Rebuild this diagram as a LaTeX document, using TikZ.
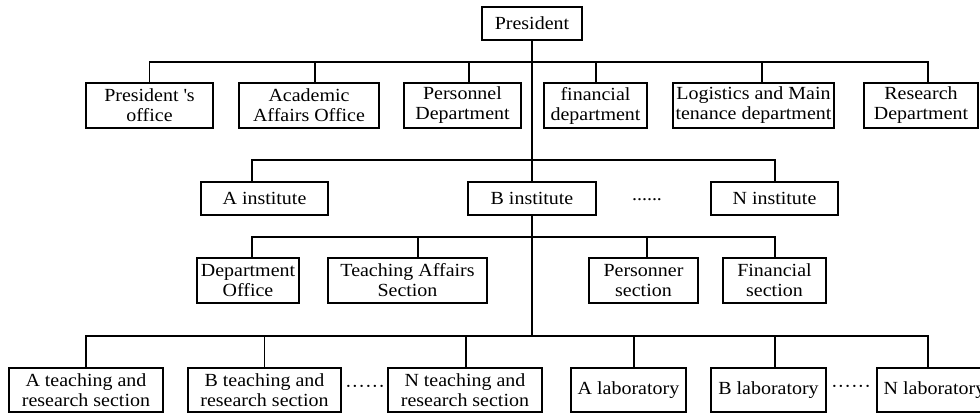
\documentclass[tikz,border=0pt]{standalone}
\usepackage{fontspec}
\setmainfont{Liberation Serif}[FakeStretch=1.08]

\tikzset{
  orgbox/.style={draw, align=center, inner sep=1pt, font=\fontsize{18.5}{20}\selectfont},
  onerow/.style={orgbox, minimum height=33pt},
  tworow/.style={orgbox, minimum height=45pt},
  gapdots/.style={font=\fontsize{18.5}{20}\selectfont}
}

\begin{document}
\begin{tikzpicture}[x=1pt, y=-1pt, line width=1.1pt]
\useasboundingbox (0,0) rectangle (980,413);

\node [onerow, minimum width=100pt] (pres) at (532,23.5) {President};

% offices under the president
\node [tworow, minimum width=127pt] (office) at (149.5,105.5) {President \textquotesingle s\\office};
\node [tworow, minimum width=140pt] (academic) at (309,105.5) {Academic\\Affairs Office};
\node [tworow, minimum width=117pt] (personnel) at (462.5,105.5) {Personnel\\Department};
\node [tworow, minimum width=103pt] (financial) at (595.5,105.5) {financial\\department};
\node [tworow, minimum width=161pt] (logistics) at (753.5,105.5) {Logistics and Main\\tenance department};
\node [tworow, minimum width=114pt] (research) at (921,105.5) {Research\\Department};

% institutes
\node [onerow, minimum width=127pt] (ainst) at (264.5,198.5) {A institute};
\node [onerow, minimum width=128pt] (binst) at (532,198.5) {B institute};
\node [gapdots] (gapinst) at (647,200) {......};
\node [onerow, minimum width=127pt] (ninst) at (774.5,198.5) {N institute};

% sections of an institute
\node [tworow, minimum width=102pt] (deptoff) at (248,280.5) {Department\\Office};
\node [tworow, minimum width=159pt] (teaching) at (407.5,280.5) {Teaching Affairs\\Section};
\node [tworow, minimum width=109pt] (personner) at (643.5,280.5) {Personner\\section};
\node [tworow, minimum width=103pt] (finsec) at (774.5,280.5) {Financial\\section};

% teaching and research sections, laboratories
\node [tworow, minimum width=154pt, minimum height=44pt] (ateach) at (86,390) {A teaching and\\research section};
\node [tworow, minimum width=153pt, minimum height=44pt] (bteach) at (264.5,390) {B teaching and\\research section};
\node [gapdots] (gapteach) at (365,389) {······};
\node [tworow, minimum width=154pt, minimum height=44pt] (nteach) at (465,390) {N teaching and\\research section};
\node [tworow, minimum width=115pt, minimum height=44pt] (alab) at (628.5,390) {A laboratory};
\node [tworow, minimum width=115pt, minimum height=44pt] (blab) at (768.5,390) {B laboratory};
\node [gapdots] (gaplab) at (851,389) {······};
\node [tworow, minimum width=115pt, minimum height=44pt] (nlab) at (934.5,390) {N laboratory};

\coordinate (j1) at (532,62);
\coordinate (j2) at (532,160);
\coordinate (j3) at (532,237);
\coordinate (j4) at (532,336);

\draw (pres) -- (binst);
\draw (binst) -- (j4);

\foreach \n/\dx in {office/0, academic/6, personnel/6.5, financial/0.5, logistics/8.5, research/7}
  \draw ([xshift=\dx pt]\n.north) |- (j1);
\foreach \n/\dx in {ainst/-12.5, ninst/0.5}
  \draw ([xshift=\dx pt]\n.north) |- (j2);
\foreach \n/\dx in {deptoff/4, teaching/10.5, personner/3.5, finsec/0.5}
  \draw ([xshift=\dx pt]\n.north) |- (j3);
\foreach \n/\dx in {ateach/0, bteach/0, nteach/1, alab/5.5, blab/6.5, nlab/-6.5}
  \draw ([xshift=\dx pt]\n.north) |- (j4);
\end{tikzpicture}
\end{document}
